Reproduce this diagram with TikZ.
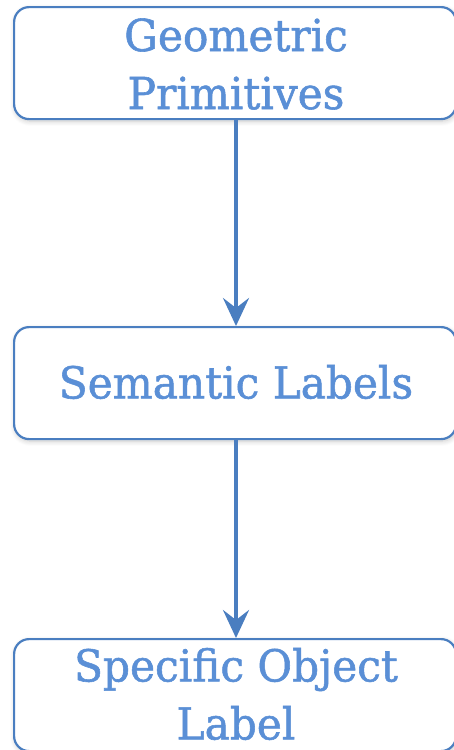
\documentclass[tikz,border=0pt]{standalone}
\usepackage{fontspec}
\setmainfont{DejaVu Serif}
\newfontfamily\lblfont[FakeBold=1.3]{DejaVu Serif}
\usetikzlibrary{arrows.meta,shadows.blur}
\definecolor{boxline}{HTML}{4A7EC0}
\definecolor{txtblue}{HTML}{5A8FD6}
\newcommand{\lblfmt}[1]{\scalebox{0.96}[1]{#1}}
\tikzset{
  box/.style={draw=boxline, line width=2.2pt, rounded corners=15pt, fill=white,
    blur shadow={shadow xshift=1pt, shadow yshift=-2pt, shadow blur radius=5pt, shadow blur steps=8, shadow opacity=22}},
  lbl/.style={text=txtblue, font=\lblfont\fontsize{44}{58}\selectfont, align=center, inner sep=0pt},
  conn/.style={draw=boxline, line width=3.8pt, -{Stealth[length=28pt,width=26pt,inset=10pt]}}
}
\begin{document}
\begin{tikzpicture}[x=1pt,y=-1pt]
\useasboundingbox (0,0) rectangle (454,750);
\node[box, minimum width=442pt, minimum height=112pt, anchor=north west] (b1) at (13,6) {};
\node[box, minimum width=442pt, minimum height=112pt, anchor=north west] (b2) at (13,326) {};
\node[box, minimum width=442pt, minimum height=112pt, anchor=north west] (b3) at (13,638) {};
\node[lbl] (t1) at (236,64) {\lblfmt{Geometric}\\\lblfmt{Primitives}};
\node[lbl] (t2) at (236,382) {\lblfmt{Semantic Labels}};
\node[lbl] (t3) at (236,694) {\lblfmt{Specific Object}\\\lblfmt{Label}};
\draw[conn] (b1.south -| 236,0) -- (b2.north -| 236,0);
\draw[conn] (b2.south -| 236,0) -- (b3.north -| 236,0);
\end{tikzpicture}
\end{document}
